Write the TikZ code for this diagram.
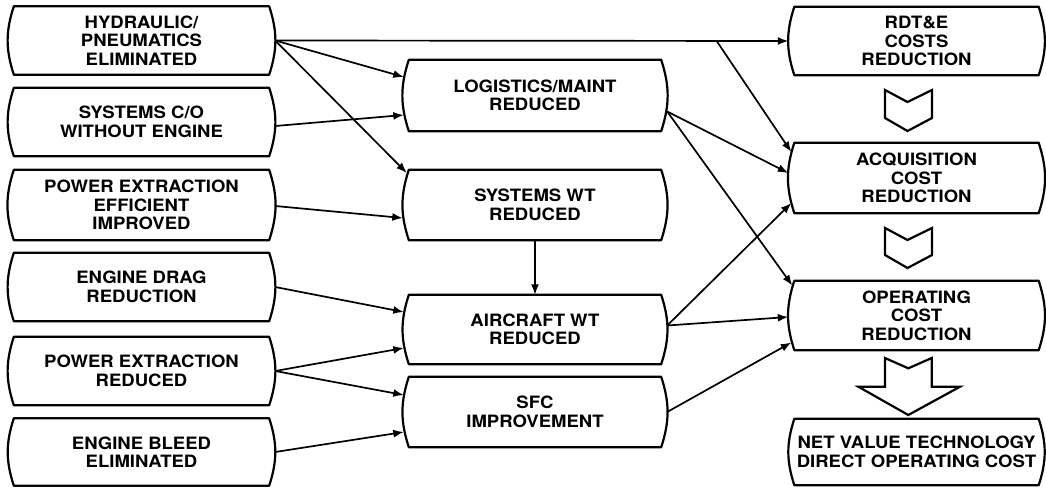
\documentclass[tikz,border=0pt]{standalone}
\usepackage{fontspec}
\newfontfamily\boxfont[FakeStretch=1.09]{TeX Gyre Heros}
\usetikzlibrary{arrows.meta}

\tikzset{
  barrel/.style={align=center, inner sep=0pt, minimum height=68pt,
    font={\boxfont\bfseries\fontsize{17}{18.5}\selectfont}},
  leftbox/.style={barrel, minimum width=267pt},
  midbox/.style={barrel, minimum width=264pt, minimum height=70pt},
  rightbox/.style={barrel, minimum width=256pt},
  outline/.style={draw, line width=2.2pt, line join=round},
  conn/.style={-{Latex[length=10.5pt,width=8pt]}, line width=1.7pt},
  chevron/.style={draw, line width=2.2pt, line join=miter}
}

\begin{document}
\begin{tikzpicture}[x=1pt, y=-1pt]
\useasboundingbox (0,0) rectangle (1046,487);

% inputs
\node[leftbox] (hyd) at (141.5,40.5) {HYDRAULIC/\\PNEUMATICS\\ELIMINATED};
\node[leftbox] (sco) at (141.5,122) {SYSTEMS C/O\\WITHOUT ENGINE};
\node[leftbox, minimum height=70pt] (pee) at (141.5,205) {POWER EXTRACTION\\EFFICIENT\\IMPROVED};
\node[leftbox] (edr) at (141.5,287) {ENGINE DRAG\\REDUCTION};
\node[leftbox] (per) at (141.5,371) {POWER EXTRACTION\\REDUCED};
\node[leftbox, minimum height=67pt] (ebe) at (141.5,452) {ENGINE BLEED\\ELIMINATED};

% intermediate effects
\node[midbox, minimum height=71pt] (log) at (535,95.5) {LOGISTICS/MAINT\\REDUCED};
\node[midbox] (swt) at (535,205) {SYSTEMS WT\\REDUCED};
\node[midbox, minimum height=69pt] (awt) at (535,329.5) {AIRCRAFT WT\\REDUCED};
\node[midbox] (sfc) at (535,412) {SFC\\IMPROVEMENT};

% cost results
\node[rightbox] (rdt) at (916.5,41) {RDT\&E\\COSTS\\REDUCTION};
\node[rightbox, minimum height=70pt] (acq) at (916.5,178) {ACQUISITION\\COST\\REDUCTION};
\node[rightbox, minimum height=69pt] (opc) at (916.5,315.5) {OPERATING\\COST\\REDUCTION};
\node[rightbox, minimum height=66pt] (net) at (916.5,452) {NET VALUE TECHNOLOGY\\DIRECT OPERATING COST};

% barrel outlines: straight top and bottom, bulging sides
\foreach \n in {hyd,sco,pee,edr,per,ebe,log,swt,awt,sfc,rdt,acq,opc,net}{
  \draw[outline] ([xshift=6pt]\n.north west) -- ([xshift=-6pt]\n.north east)
    to[bend left=18] ([xshift=-6pt]\n.south east)
    -- ([xshift=6pt]\n.south west)
    to[bend left=18] ([xshift=6pt]\n.north west) -- cycle;
}

% chevrons between cost boxes
\draw[chevron] (885,90) -- (907.5,102) -- (932,90) -- (932,118) -- (907.5,131) -- (885,118) -- cycle;
\draw[chevron] (885,228) -- (907.5,240) -- (932,228) -- (932,255) -- (907.5,268) -- (885,255) -- cycle;
\draw[chevron] (885,358) -- (908.3,368.3) -- (931.7,358) -- (931.7,386.7) -- (960,386.7)
  -- (908.3,415) -- (858.3,386.7) -- (885,386.7) -- cycle;

% connectors
\coordinate (fork) at (717,41.5);
\draw[conn] (hyd.east) -- (rdt.west);
\draw[conn] (fork) -- ([xshift=3pt,yshift=26pt]acq.west);
\draw[conn] (hyd.east) -- ([xshift=1pt,yshift=18.5pt]log.west);
\draw[conn] (hyd.east) -- ([xshift=4pt,yshift=32pt]swt.west);
\draw[conn] ([yshift=-4pt]sco.east) -- ([xshift=1pt,yshift=-19.5pt]log.west);
\draw[conn] ([yshift=-1pt]pee.east) -- ([yshift=-13pt]swt.west);
\draw[conn] (swt.south) -- (awt.north);
\draw[conn] (edr.east) -- ([xshift=1pt,yshift=17.5pt]awt.west);
\draw[conn] (per.east) -- ([xshift=1pt,yshift=-18.5pt]awt.west);
\draw[conn] (per.east) -- ([xshift=1pt,yshift=17pt]sfc.west);
\draw[conn] (ebe.east) -- ([xshift=1pt,yshift=-20pt]sfc.west);
\draw[conn] ([yshift=-16pt]log.east) -- ([yshift=5pt]acq.west);
\draw[conn] ([yshift=-16pt]log.east) -- ([xshift=4pt,yshift=30pt]opc.west);
\draw[conn] ([yshift=4pt]awt.east) -- ([xshift=3pt,yshift=-25pt]acq.west);
\draw[conn] ([yshift=4pt]awt.east) -- ([yshift=-1.5pt]opc.west);
\draw[conn] (sfc.east) -- ([xshift=3pt,yshift=-27pt]opc.west);
\end{tikzpicture}
\end{document}
